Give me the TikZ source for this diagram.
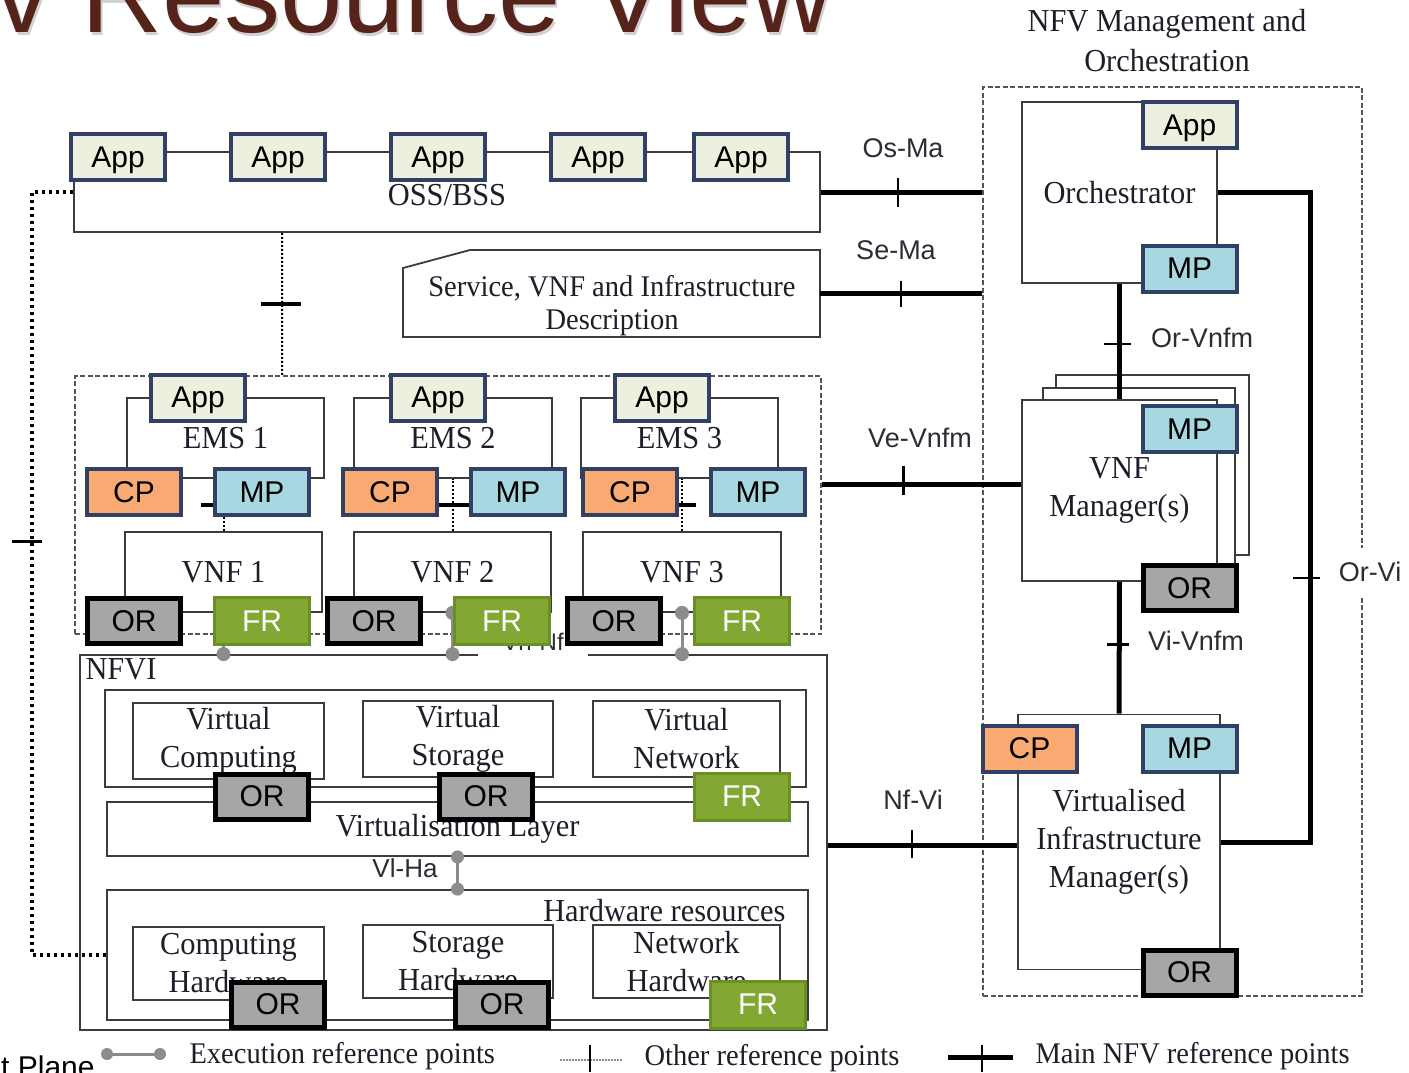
\documentclass[tikz,border=0pt]{standalone}
\usepackage{fontspec}
\setmainfont{Liberation Serif}
\newfontfamily\arialf{Liberation Sans}
\newfontfamily\serifn[FakeStretch=0.95]{Liberation Serif}
\usetikzlibrary{calc}
\definecolor{appfill}{HTML}{EBF1DE}
\definecolor{navy}{HTML}{334066}
\definecolor{cpfill}{HTML}{F9AA72}
\definecolor{mpfill}{HTML}{A7D7E1}
\definecolor{orfill}{HTML}{A6A6A6}
\definecolor{frfill}{HTML}{83A733}
\definecolor{frdraw}{HTML}{6B8E26}
\definecolor{boxline}{HTML}{3C3C3C}
\definecolor{dashcol}{HTML}{555555}
\definecolor{txtcol}{HTML}{1E1E2A}
\definecolor{labcol}{HTML}{2C2C36}
\definecolor{exgray}{HTML}{8C8C8C}
\definecolor{titlecol}{HTML}{56231A}
\newcommand\fBox{\arialf\fontsize{30}{36}\selectfont}
\newcommand\fSerif{\serifn\fontsize{32}{38}\selectfont}
\newcommand\fSerifS{\serifn\fontsize{30}{33}\selectfont}
\newcommand\fSerifL{\serifn\fontsize{30}{34}\selectfont}
\newcommand\fLab{\arialf\fontsize{27}{32}\selectfont}
\newcommand\fTitle{\arialf\fontsize{112}{120}\selectfont}
\begin{document}
\begin{tikzpicture}[x=1pt,y=-1pt,
 bx/.style={draw=boxline,line width=1.8pt,inner sep=0pt},
 navyb/.style={draw=navy,line width=4pt,minimum width=94pt,minimum height=46pt,inner sep=0pt,font=\fBox},
 appb/.style={navyb,fill=appfill,text depth=0pt},
 cpb/.style={navyb,fill=cpfill},
 mpb/.style={navyb,fill=mpfill},
 orb/.style={draw=black,line width=5pt,fill=orfill,minimum width=93pt,minimum height=45pt,inner sep=0pt,font=\fBox},
 frb/.style={draw=frdraw,line width=3pt,fill=frfill,text=white,minimum width=95pt,minimum height=47pt,inner sep=0pt,font=\fBox},
 serif/.style={font=\fSerif,text=txtcol,align=center},
 legtext/.style={font=\fSerifL,text=txtcol,anchor=west},
 rlabel/.style={font=\fLab,text=labcol},
 mainref/.style={line width=5pt,draw=black},
 maintick/.style={line width=2.5pt,draw=black},
 exref/.style={line width=3pt,draw=exgray},
 otherref/.style={line width=2pt,draw=black,dash pattern=on 2pt off 2pt},
 bigdot/.style={line width=4.5pt,draw=black,dash pattern=on 3.5pt off 3.5pt},
 dashbox/.style={draw=dashcol,line width=2pt,dash pattern=on 5pt off 2.5pt,inner sep=0pt},
]
\useasboundingbox (0,0) rectangle (1409,1072);
\fill[white] (0,0) rectangle (1409,1072);

% title
\node[anchor=base west,font=\fTitle,text=black!18,inner sep=0pt] (titleshadow) at (-4,35) {v Resource View};
\node[anchor=base west,font=\fTitle,text=titlecol,inner sep=0pt] (title) at (-6,32) {v Resource View};
\node[anchor=base west,font=\arialf\fontsize{30}{32}\selectfont,inner sep=0pt] (tplane) at (1,1077) {t Plane};

% MANO frame
\node[dashbox,minimum width=379pt,minimum height=909pt] (mano) at (1172.5,541.5) {};
\node[serif] (manot1) at (1167,24) {NFV Management and};
\node[serif] (manot2) at (1167,61) {Orchestration};

% OSS/BSS
\node[bx,minimum width=746pt,minimum height=80pt] (oss) at (447,192) {};
\node[serif] (osst) at (447,195) {OSS/BSS};
\node[appb] (a1) at (118,157) {App};
\node[appb] (a2) at (278,157) {App};
\node[appb] (a3) at (438,157) {App};
\node[appb] (a4) at (598,157) {App};
\node[appb] (a5) at (741,157) {App};

% Service description
\node[minimum width=417pt,minimum height=87pt,inner sep=0pt] (svc) at (611.5,293.5) {};
\draw[bx] (403,268) -- (470,250) -- (820,250) -- (820,337) -- (403,337) -- cycle;
\node[font=\fSerifS,text=txtcol,align=center] (svct) at (612,306) {Service, VNF and Infrastructure\\Description};

% EMS / VNF frame and NFVI
\node[dashbox,minimum width=746pt,minimum height=258pt] (emsbox) at (448,505) {};
\node[bx,minimum width=747pt,minimum height=375pt] (nfvi) at (453.5,842.5) {};
\node[serif,anchor=west] (nfvit) at (82,669) {NFVI};
\node[font=\arialf\fontsize{24}{26}\selectfont,text=labcol,fill=white,minimum width=110pt,minimum height=30pt,inner sep=0pt] (vnnf) at (533,642) {Vn-Nf};

% NFVI contents
\node[bx,minimum width=701pt,minimum height=97pt] (vr) at (455.5,738.5) {};
\node[bx,serif,minimum width=191pt,minimum height=76pt] (vc) at (228.5,741) {Virtual\\Computing};
\node[bx,serif,minimum width=190pt,minimum height=76pt] (vs) at (458,739) {Virtual\\Storage};
\node[bx,serif,minimum width=187pt,minimum height=76pt] (vn) at (686.5,739) {Virtual\\Network};
\node[bx,serif,minimum width=701pt,minimum height=54pt] (vl) at (457.5,829) {Virtualisation Layer};
\node[orb] (vor1) at (262,796.5) {OR};
\node[orb] (vor2) at (486,796.5) {OR};
\node[frb] (vfr) at (742,796.5) {FR};
\node[bx,minimum width=701pt,minimum height=130pt] (hw) at (457.5,955) {};
\node[serif,anchor=east] (hwt) at (789,911) {Hardware resources};
\node[bx,serif,minimum width=191pt,minimum height=73pt] (ch) at (228.5,963.5) {Computing\\Hardware};
\node[bx,serif,minimum width=190pt,minimum height=73pt] (sh) at (458,961.5) {Storage\\Hardware};
\node[bx,serif,minimum width=187pt,minimum height=73pt] (nh) at (686.5,961.5) {Network\\Hardware};
\node[orb] (hor1) at (278,1004.5) {OR};
\node[orb] (hor2) at (502,1004.5) {OR};
\node[frb] (hfr) at (758,1004.5) {FR};
\draw[exref] (vl.south) -- (hw.north);
\fill[exgray] (vl.south) circle (6.5pt) (hw.north) circle (6.5pt);
\node[rlabel,font=\arialf\fontsize{26}{30}\selectfont] (viha) at (405,868) {Vl-Ha};

% EMS and VNF boxes
\node[bx,serif,minimum width=197pt,minimum height=80pt] (ems1) at (225.5,438) {EMS 1};
\node[bx,serif,minimum width=198pt,minimum height=80pt] (ems2) at (453,438) {EMS 2};
\node[bx,serif,minimum width=197pt,minimum height=80pt] (ems3) at (679.5,438) {EMS 3};
\node[bx,serif,minimum width=197pt,minimum height=80pt] (vnf1) at (223.5,572) {VNF 1};
\node[bx,serif,minimum width=197pt,minimum height=80pt] (vnf2) at (452.5,572) {VNF 2};
\node[bx,serif,minimum width=198pt,minimum height=80pt] (vnf3) at (682,572) {VNF 3};

% EMS-VNF other reference points
\draw[otherref] (vnf1.north) -- coordinate[pos=0.5] (d1) (vnf1.north |- ems1.south);
\draw[otherref] (vnf2.north) -- coordinate[pos=0.5] (d2) (vnf2.north |- ems2.south);
\draw[otherref] (vnf3.north) -- coordinate[pos=0.5] (d3) (vnf3.north |- ems3.south);
\draw[maintick,line width=3.5pt] ([xshift=-23pt]d1) -- ([xshift=12pt]d1);
\draw[maintick,line width=3.5pt] ([xshift=-14pt]d2) -- ([xshift=16pt]d2);
\draw[maintick,line width=3.5pt] ([xshift=-4pt]d3) -- ([xshift=14pt]d3);

% execution reference points VNF-NFVI
\draw[exref] (vnf1.south) -- (vnf1.south |- nfvi.north);
\draw[exref] (vnf2.south) -- (vnf2.south |- nfvi.north);
\draw[exref] (vnf3.south) -- (vnf3.south |- nfvi.north);
\fill[exgray] (vnf1.south) circle (7pt) (vnf1.south |- nfvi.north) circle (7pt);
\fill[exgray] (vnf2.south) circle (7pt) (vnf2.south |- nfvi.north) circle (7pt);
\fill[exgray] (vnf3.south) circle (7pt) (vnf3.south |- nfvi.north) circle (7pt);

\node[cpb] (cp1) at (134,492) {CP};
\node[mpb] (mp1) at (262,492) {MP};
\node[cpb] (cp2) at (390,492) {CP};
\node[mpb] (mp2) at (518,492) {MP};
\node[cpb] (cp3) at (630,492) {CP};
\node[mpb] (mp3) at (758,492) {MP};
\node[orb] (or1) at (134,621) {OR};
\node[frb] (fr1) at (262,621) {FR};
\node[orb] (or2) at (374,621) {OR};
\node[frb] (fr2) at (502,621) {FR};
\node[orb] (or3) at (614,621) {OR};
\node[frb] (fr3) at (742,621) {FR};
\node[appb] (ea1) at (198,397.5) {App};
\node[appb] (ea2) at (438,397.5) {App};
\node[appb] (ea3) at (662,397.5) {App};

% MANO internals
\node[bx,fill=white,serif,minimum width=195pt,minimum height=181pt] (orch) at (1119.5,192.5) {Orchestrator};
\node[appb] (oapp) at (1189.5,125) {App};
\node[mpb] (omp) at (1189.5,268.5) {MP};
\node[bx,fill=white,minimum width=193pt,minimum height=180pt] (vnfmb1) at (1152.5,465) {};
\node[bx,fill=white,minimum width=192pt,minimum height=180pt] (vnfmb2) at (1139,478) {};
\node[bx,fill=white,serif,minimum width=195pt,minimum height=181pt] (vnfm) at (1119.5,490.5) {VNF\\Manager(s)};
\node[mpb] (vmp) at (1189.5,429) {MP};
\node[orb] (vor) at (1189.5,588) {OR};
\node[bx,fill=white,serif,minimum width=202pt,minimum height=255pt] (vim) at (1119,842) {Virtualised\\Infrastructure\\Manager(s)};
\node[cpb] (vimcp) at (1029.5,748.5) {CP};
\node[mpb] (vimmp) at (1189.5,748.5) {MP};
\node[orb] (vimor) at (1189.5,972.5) {OR};

% main reference points
\draw[mainref] (oss.east) -- coordinate[pos=0.48] (tOM) (oss.east -| mano.west);
\draw[maintick] ([yshift=14pt]tOM) -- ([yshift=-15pt]tOM);
\node[rlabel] (osma) at (903,148) {Os-Ma};

\draw[mainref] (svc.east) -- coordinate[pos=0.5] (tSM) (svc.east -| mano.west);
\draw[maintick] ([yshift=13pt]tSM) -- ([yshift=-13pt]tSM);
\node[rlabel] (sema) at (896,250) {Se-Ma};

\draw[mainref] ([yshift=6.5pt]vnfm.west -| emsbox.east) -- coordinate[pos=0.41] (tVV) ([yshift=6.5pt]vnfm.west);
\draw[maintick] ([yshift=18pt]tVV) -- ([yshift=-11pt]tVV);
\node[rlabel] (vevnfm) at (920,438) {Ve-Vnfm};

\draw[mainref] ([yshift=-3pt]vim.west -| nfvi.east) -- coordinate[pos=0.445] (tNV) ([yshift=-3pt]vim.west);
\draw[maintick] ([yshift=15pt]tNV) -- ([yshift=-13pt]tNV);
\node[rlabel] (nfvi2) at (913,800) {Nf-Vi};

\draw[mainref] (orch.south) -- coordinate[pos=0.52] (tOV) (vnfm.north);
\draw[maintick] ([xshift=-16pt]tOV) -- ([xshift=11pt]tOV);
\node[rlabel] (orvnfm) at (1202,338) {Or-Vnfm};

\draw[mainref] (vnfm.south) -- coordinate[pos=0.477] (tVI) (vim.north);
\draw[maintick] ([xshift=-12pt]tVI) -- ([xshift=10pt]tVI);
\node[rlabel] (vivnfm) at (1196,641) {Vi-Vnfm};

\coordinate (orvi) at (1310,578);
\draw[mainref] (orch.east) -| (orvi) |- (vim.east);
\draw[maintick] ([xshift=-17pt]orvi) -- ([xshift=10pt]orvi);
\node[rlabel,fill=white,inner ysep=14pt,inner xsep=1pt] (orvil) at (1370,572) {Or-Vi};

% other reference points
\draw[otherref] ([xshift=209pt]oss.south west) -- coordinate[pos=0.5] (tOE) ([xshift=208pt]emsbox.north west);
\draw[maintick,line width=4pt] ([xshift=-21pt]tOE) -- ([xshift=19pt]tOE);
\coordinate (lt) at (32,541);
\draw[bigdot] (oss.west) -| (lt) |- (hw.west);
\draw[maintick,line width=3pt] ([xshift=-20pt]lt) -- ([xshift=10pt]lt);

% legend
\coordinate (lxa) at (107,1054);
\coordinate (lxb) at (160,1054);
\draw[exref] (lxa) -- (lxb);
\fill[exgray] (lxa) circle (6pt) (lxb) circle (6pt);
\node[legtext] (lxt) at (186,1056) {Execution reference points};
\coordinate (loa) at (560,1060);
\coordinate (lob) at (622,1060);
\coordinate (lot) at (590,1060);
\draw[line width=2pt,draw=black!45,dash pattern=on 1.5pt off 1.5pt] (loa) -- (lob);
\draw[line width=2pt] ([yshift=15pt]lot) -- ([yshift=-12pt]lot);
\node[legtext] (lotx) at (641,1058) {Other reference points};
\coordinate (lma) at (948,1057);
\coordinate (lmb) at (1013,1057);
\coordinate (lmt) at (982,1057);
\draw[mainref] (lma) -- (lmb);
\draw[maintick] ([yshift=12pt]lmt) -- ([yshift=-15pt]lmt);
\node[legtext] (lmtx) at (1032,1056) {Main NFV reference points};
\end{tikzpicture}
\end{document}
